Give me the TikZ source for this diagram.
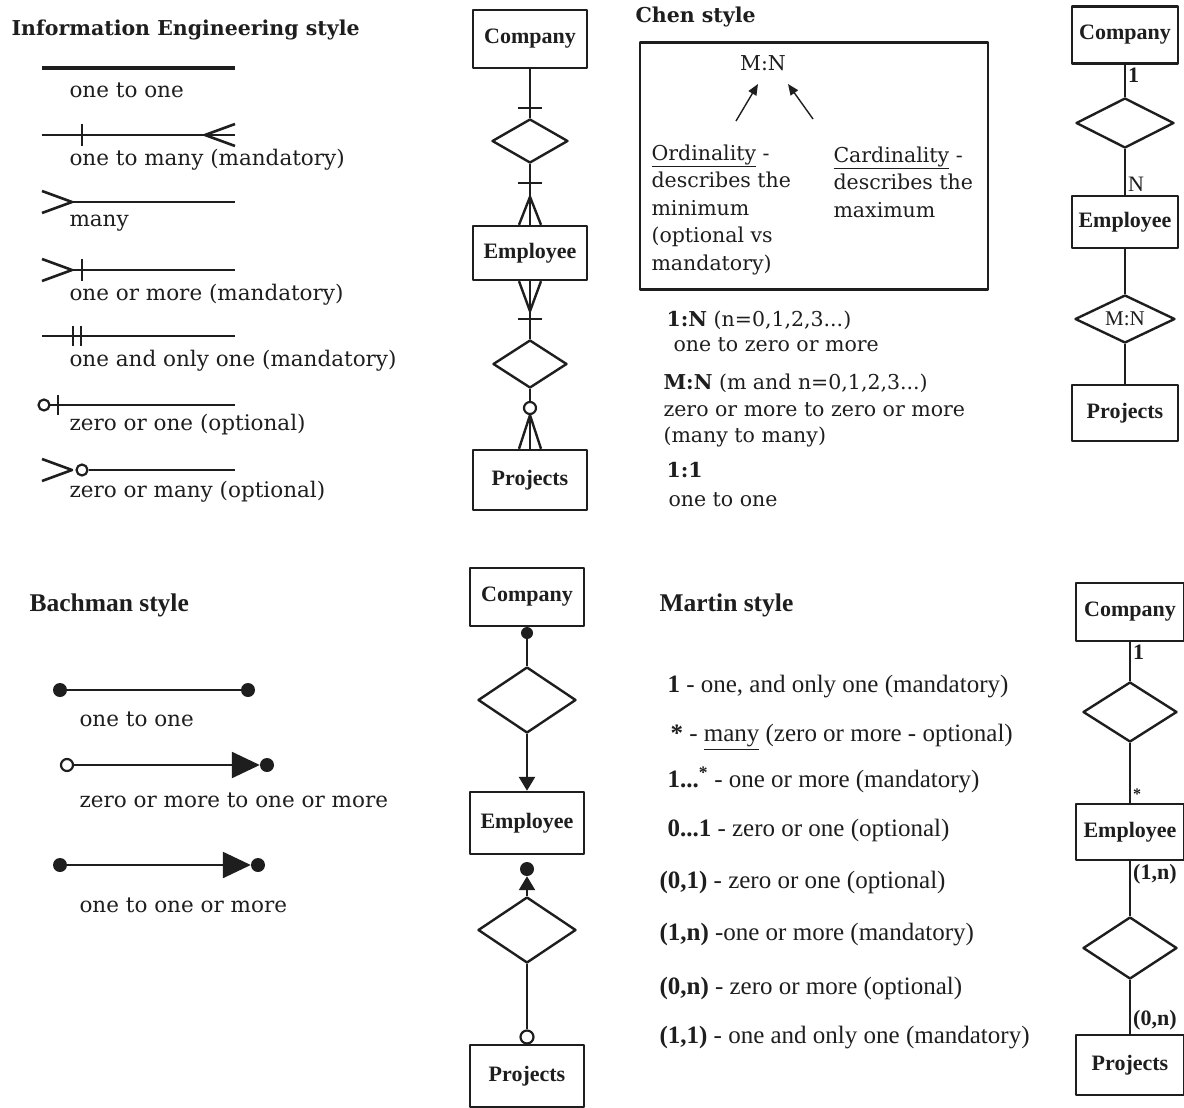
\documentclass[tikz,border=0pt]{standalone}
\usepackage{fontspec}
\setmainfont{Liberation Serif}
\newfontfamily\legendfont{DejaVu Serif}
\usepackage{xcolor}
\definecolor{ink}{HTML}{1E1E1E}
\usetikzlibrary{positioning,arrows.meta,shapes.geometric,calc}

\begin{document}
\begin{tikzpicture}[x=1pt, y=-1pt, line join=round,
    every node/.style={text=ink},
    entity/.style={draw=ink, line width=2.4pt, minimum width=114pt, minimum height=58pt,
      inner sep=2pt, font=\bfseries\fontsize{22}{26}\selectfont},
    relation/.style={draw=ink, diamond, line width=2.4pt, inner sep=0pt,
      minimum width=96pt, minimum height=64pt},
    link/.style={draw=ink, line width=2.4pt},
    ieline/.style={draw=ink, line width=2.6pt},
    dot/.style={circle, fill=ink, inner sep=0pt, minimum size=14pt},
    ring/.style={circle, draw=ink, fill=white, line width=2.2pt, inner sep=0pt, minimum size=12pt},
    bigtip/.style={-{Triangle[length=28pt, width=26pt]}},
    smalltip/.style={-{Triangle[length=14pt, width=16pt]}},
    pointer/.style={draw=ink, line width=1.4pt, -{Triangle[length=11pt, width=9pt]}},
    ieheading/.style={anchor=west, font=\legendfont\bfseries\fontsize{20.5}{24}\selectfont},
    heading/.style={anchor=west, font=\bfseries\fontsize{25.5}{30}\selectfont},
    legend/.style={anchor=west, font=\legendfont\fontsize{21.5}{26}\selectfont},
    note/.style={anchor=west, font=\legendfont\fontsize{20.5}{27.5}\selectfont},
    martin/.style={anchor=west, font=\fontsize{25}{30}\selectfont},
    card/.style={inner sep=2pt, font=\fontsize{22}{24}\selectfont}]

  \fill[white] (0,0) rectangle (1184,1108);
  \useasboundingbox (0,0) rectangle (1184,1108);

  % Information Engineering legend
  \node[ieheading] (ietitle) at (8,30) {Information Engineering style};
  \draw[ieline, line width=3.4pt] (42,68) -- (235,68);
  \node[legend] (ie1) at (66,90) {one to one};
  \draw[ieline] (42,135) -- (235,135);
  \draw[ieline] (82,124) -- (82,146);
  \draw[ieline] (235,124) -- (205,135) -- (235,146);
  \node[legend] (ie2) at (66,160) {one to many (mandatory)};
  \draw[ieline] (72,202) -- (235,202);
  \draw[ieline] (42,191) -- (72,202) -- (42,213);
  \node[legend] (ie3) at (66,223) {many};
  \draw[ieline] (72,270) -- (235,270);
  \draw[ieline] (42,259) -- (72,270) -- (42,281);
  \draw[ieline] (82,259) -- (82,281);
  \node[legend] (ie4) at (66,295) {one or more (mandatory)};
  \draw[ieline] (42,336) -- (235,336);
  \draw[ieline] (73,326) -- (73,346) (81,326) -- (81,346);
  \node[legend] (ie5) at (66,361) {one and only one (mandatory)};
  \draw[ieline] (50,405) -- (235,405);
  \draw[ieline] (58,395) -- (58,415);
  \node[ring, minimum size=11pt] (ieo6) at (44,405) {};
  \node[legend] (ie6) at (66,425) {zero or one (optional)};
  \draw[ieline] (42,459) -- (72,470) -- (42,481);
  \node[ring, minimum size=11pt] (ieo7) at (82,470) {};
  \draw[ieline] (ieo7) -- (235,470);
  \node[legend] (ie7) at (66,492) {zero or many (optional)};

  % IE example
  \node[entity] (iecomp) at (530,39) {Company};
  \node[relation, minimum width=76pt, minimum height=44pt] (ierel1) at (530,141) {};
  \node[entity, minimum height=54pt] (ieemp) at (530,253) {Employee};
  \node[relation, minimum width=74pt, minimum height=48pt] (ierel2) at (530,364) {};
  \node[ring] (iering) at (530,408) {};
  \node[entity, minimum height=60pt] (ieproj) at (530,480) {Projects};
  \draw[link] (iecomp) -- (ierel1);
  \draw[link] (ierel1) -- (ieemp);
  \draw[link] (ieemp) -- (ierel2);
  \draw[link] (ierel2) -- (iering);
  \draw[link] (iering) -- (ieproj);
  \draw[link] ($(ierel1.north)+(-12,-10)$) -- ++(24,0);
  \draw[link] ($(ierel1.south)+(-12,19)$) -- ++(24,0);
  \draw[link] ($(ieemp.north)+(-11,0)$) -- ($(ieemp.north)+(0,-28)$) -- ($(ieemp.north)+(11,0)$);
  \draw[link] ($(ieemp.south)+(-11,0)$) -- ($(ieemp.south)+(0,30)$) -- ($(ieemp.south)+(11,0)$);
  \draw[link] ($(ierel2.north)+(-12,-20)$) -- ++(24,0);
  \draw[link] ($(ieproj.north)+(-11,0)$) -- (iering.south) -- ($(ieproj.north)+(11,0)$);

  % Chen style
  \node[ieheading] (chentitle) at (632,17) {Chen style};
  \node[draw=ink, line width=2.4pt, minimum width=348pt, minimum height=247pt] (chenbox) at (814,166) {};
  \node[note, anchor=center] (chenmn) at (763,63) {M:N};
  \node[note, anchor=north west, align=left] (ordinal) at (648,141)
    {\underline{Ordinality} -\\describes the\\minimum\\(optional vs\\mandatory)};
  \node[note, anchor=north west, align=left] (cardinal) at (830,143)
    {\underline{Cardinality} -\\describes the\\maximum};
  \coordinate (ordfoot) at (736,121);
  \coordinate (ordhead) at (758,84);
  \coordinate (cardfoot) at (813,119);
  \coordinate (cardhead) at (788,84);
  \draw[pointer] (ordfoot) -- (ordhead);
  \draw[pointer] (cardfoot) -- (cardhead);
  \node[note] (chen1) at (663,320) {\textbf{1:N} (n=0,1,2,3...)};
  \node[note] (chen2) at (670,345) {one to zero or more};
  \node[note] (chen3) at (660,383) {\textbf{M:N} (m and n=0,1,2,3...)};
  \node[note] (chen4) at (660,410) {zero or more to zero or more};
  \node[note] (chen5) at (660,437) {(many to many)};
  \node[note] (chen6) at (663,470) {\textbf{1:1}};
  \node[note] (chen7) at (665,500) {one to one};

  % Chen example
  \node[entity, minimum width=106pt, minimum height=57pt] (ccomp) at (1125,35) {Company};
  \node[relation, minimum width=98pt, minimum height=50pt] (crel1) at (1125,123) {};
  \node[entity, minimum width=106pt, minimum height=52pt] (cemp) at (1125,222) {Employee};
  \node[relation, aspect=2, minimum width=100pt, minimum height=48pt,
    font=\fontsize{21}{24}\selectfont] (crel2) at (1125,319) {M:N};
  \node[entity, minimum width=106pt, minimum height=56pt] (cproj) at (1125,413) {Projects};
  \draw[link] (ccomp) -- node[pos=0, anchor=north west, card, font=\bfseries\fontsize{22}{24}\selectfont] {1} (crel1);
  \draw[link] (crel1) -- node[pos=1, anchor=south west, card] {N} (cemp);
  \draw[link] (cemp) -- (crel2);
  \draw[link] (crel2) -- (cproj);

  % Bachman legend
  \node[heading] (bachtitle) at (26,605) {Bachman style};
  \node[dot] (bl1a) at (60,690) {};
  \node[dot] (bl1b) at (248,690) {};
  \draw[link] (bl1a) -- (bl1b);
  \node[legend] (bl1) at (76,719) {one to one};
  \node[ring] (bl2a) at (67,765) {};
  \node[dot] (bl2b) at (267,765) {};
  \draw[link, bigtip] (bl2a) -- (bl2b);
  \node[legend] (bl2) at (76,800) {zero or more to one or more};
  \node[dot] (bl3a) at (60,865) {};
  \node[dot] (bl3b) at (258,865) {};
  \draw[link, bigtip] (bl3a) -- (bl3b);
  \node[legend] (bl3) at (76,905) {one to one or more};

  % Bachman example
  \node[entity] (bcomp) at (527,597) {Company};
  \node[dot, minimum size=12pt] (bdot1) at (527,633) {};
  \node[relation, minimum width=98pt, minimum height=66pt] (brel1) at (527,700) {};
  \node[entity, minimum height=62pt] (bemp) at (527,823) {Employee};
  \node[dot] (bdot2) at (527,869) {};
  \node[relation, minimum width=98pt, minimum height=66pt] (brel2) at (527,930) {};
  \node[ring, minimum size=13pt] (bring) at (527,1037) {};
  \node[entity, minimum height=62pt] (bproj) at (527,1076) {Projects};
  \draw[link] (bdot1) -- (brel1);
  \draw[link, smalltip] (brel1) -- (bemp);
  \draw[link, smalltip] (brel2) -- (bdot2);
  \draw[link] (brel2) -- (bring);
  \draw[link] (bring) -- (bproj);

  % Martin style
  \node[heading] (martitle) at (656,605) {Martin style};
  \node[martin] (mar1) at (664,687) {\textbf{1} - one, and only one (mandatory)};
  \node[martin] (mar2) at (667,737) {\textbf{*} - \underline{many} (zero or more - optional)};
  \node[martin] (mar3) at (664,780) {\textbf{1...\textsuperscript{*}} - one or more (mandatory)};
  \node[martin] (mar4) at (664,830) {\textbf{0...1} - zero or one (optional)};
  \node[martin] (mar5) at (656,882) {\textbf{(0,1)} - zero or one (optional)};
  \node[martin] (mar6) at (656,935) {\textbf{(1,n)} -one or more (mandatory)};
  \node[martin] (mar7) at (656,988) {\textbf{(0,n)} - zero or more (optional)};
  \node[martin] (mar8) at (656,1038) {\textbf{(1,1)} - one and only one (mandatory)};

  % Martin example
  \node[entity, minimum width=108pt] (mcomp) at (1130,612) {Company};
  \node[relation, minimum width=94pt, minimum height=60pt] (mrel1) at (1130,712) {};
  \node[entity, minimum width=108pt, minimum height=56pt] (memp) at (1130,832) {Employee};
  \node[relation, minimum width=94pt, minimum height=62pt] (mrel2) at (1130,948) {};
  \node[entity, minimum width=108pt, minimum height=60pt] (mproj) at (1130,1065) {Projects};
  \draw[link] (mcomp) -- node[pos=0, anchor=north west, card, font=\bfseries\fontsize{22}{24}\selectfont] {1} (mrel1);
  \draw[link] (mrel1) -- node[pos=1, anchor=south west, card, font=\bfseries\fontsize{16}{18}\selectfont] {*} (memp);
  \draw[link] (memp) -- node[pos=0, anchor=north west, card, font=\bfseries\fontsize{22}{24}\selectfont] {(1,n)} (mrel2);
  \draw[link] (mrel2) -- node[pos=1, anchor=south west, card, font=\bfseries\fontsize{22}{24}\selectfont] {(0,n)} (mproj);
\end{tikzpicture}
\end{document}
